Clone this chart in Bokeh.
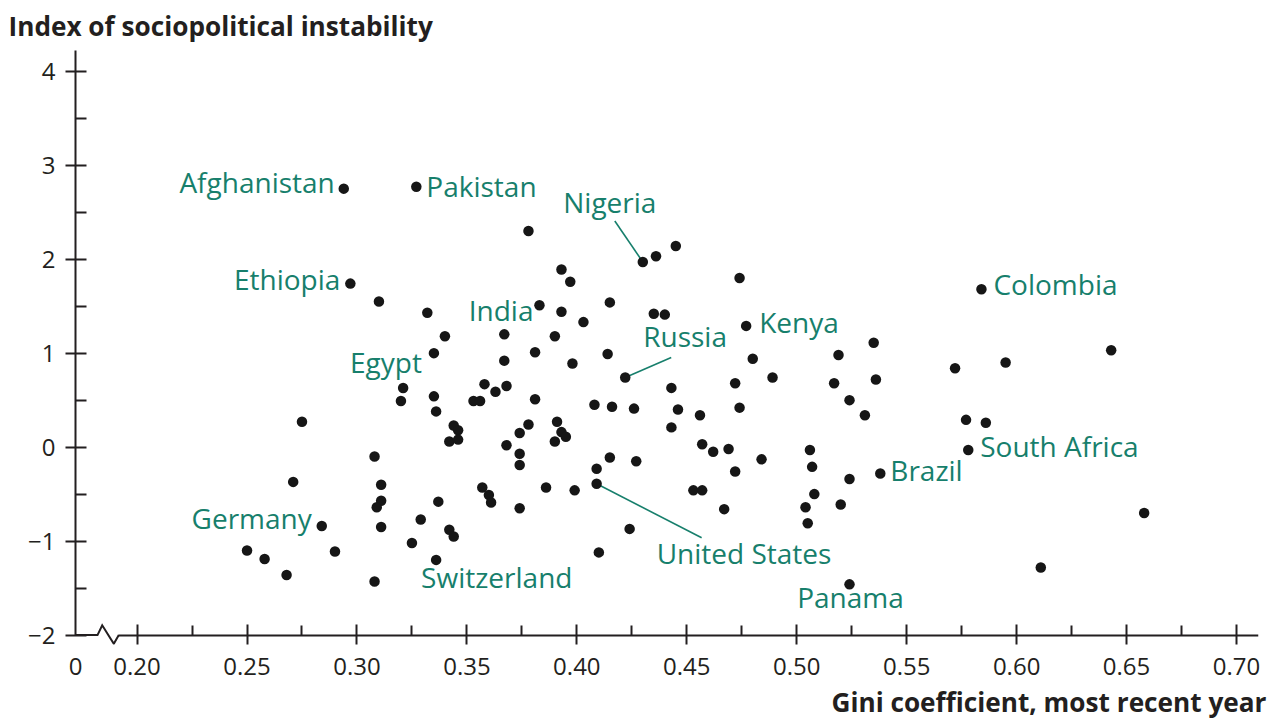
from bokeh.plotting import figure
from bokeh.models import (Range1d, FixedTicker, CustomJSTickFormatter, Label, LinearAxis, Title,
                          CustomLabelingPolicy)
from bokeh.embed import file_html
from bokeh.resources import INLINE

# ---------------- data ----------------
countries = ["Afghanistan", "Pakistan", "Ethiopia", "Nigeria", "India", "Egypt", "Russia",
             "Kenya", "Colombia", "South Africa", "Brazil", "Germany", "Switzerland",
             "United States", "Panama"]
country_gini = [0.294, 0.327, 0.297, 0.430, 0.383, 0.335, 0.422,
                0.477, 0.584, 0.578, 0.538, 0.284, 0.336, 0.409, 0.524]
country_instability = [2.75, 2.77, 1.74, 1.97, 1.51, 1.00, 0.74,
                       1.29, 1.68, -0.03, -0.28, -0.84, -1.20, -0.39, -1.46]

other_gini = [0.310, 0.332, 0.340, 0.367, 0.367, 0.321, 0.358, 0.363, 0.368, 0.378,
              0.436, 0.445, 0.393, 0.397, 0.393, 0.403, 0.415, 0.435, 0.440, 0.390,
              0.381, 0.398, 0.414, 0.443, 0.320, 0.335, 0.336, 0.353, 0.356, 0.344,
              0.346, 0.342, 0.346, 0.374, 0.368, 0.374, 0.374, 0.308, 0.311, 0.311,
              0.309, 0.311, 0.290, 0.337, 0.329, 0.325, 0.342, 0.344, 0.357, 0.360,
              0.361, 0.374, 0.308, 0.381, 0.408, 0.416, 0.426, 0.446, 0.456, 0.443,
              0.378, 0.391, 0.393, 0.395, 0.390, 0.415, 0.427, 0.409, 0.399, 0.386,
              0.457, 0.462, 0.453, 0.457, 0.424, 0.410, 0.467, 0.472, 0.489, 0.480,
              0.517, 0.536, 0.572, 0.595, 0.474, 0.524, 0.531, 0.577, 0.586, 0.469,
              0.506, 0.484, 0.507, 0.472, 0.524, 0.508, 0.504, 0.520, 0.505, 0.658,
              0.611, 0.474, 0.535, 0.643, 0.519, 0.275, 0.271, 0.250, 0.258, 0.268]
other_instability = [1.55, 1.43, 1.18, 1.20, 0.92, 0.63, 0.67, 0.59, 0.65, 2.30,
                     2.03, 2.14, 1.89, 1.76, 1.44, 1.33, 1.54, 1.42, 1.41, 1.18,
                     1.01, 0.89, 0.99, 0.63, 0.49, 0.54, 0.38, 0.49, 0.49, 0.23,
                     0.18, 0.06, 0.08, 0.15, 0.02, -0.07, -0.19, -0.10, -0.40, -0.57,
                     -0.64, -0.85, -1.11, -0.58, -0.77, -1.02, -0.88, -0.95, -0.43, -0.51,
                     -0.59, -0.65, -1.43, 0.51, 0.45, 0.43, 0.41, 0.40, 0.34, 0.21,
                     0.24, 0.27, 0.16, 0.11, 0.06, -0.11, -0.15, -0.23, -0.46, -0.43,
                     0.03, -0.05, -0.46, -0.46, -0.87, -1.12, -0.66, 0.68, 0.74, 0.94,
                     0.68, 0.72, 0.84, 0.90, 0.42, 0.50, 0.34, 0.29, 0.26, -0.02,
                     -0.03, -0.13, -0.21, -0.26, -0.34, -0.50, -0.64, -0.61, -0.81, -0.70,
                     -1.28, 1.80, 1.11, 1.03, 0.98, 0.27, -0.37, -1.10, -1.19, -1.36]

x_ticks = [0.20, 0.25, 0.30, 0.35, 0.40, 0.45, 0.50, 0.55, 0.60, 0.65, 0.70]
x_minor_ticks = [0.225, 0.275, 0.325, 0.375, 0.425, 0.475, 0.525, 0.575, 0.625, 0.675]
y_ticks = [-2, -1, 0, 1, 2, 3, 4]
y_minor_ticks = [-1.5, -0.5, 0.5, 1.5, 2.5, 3.5]

y_title = "Index of sociopolitical instability"
x_title = "Gini coefficient, most recent year"

# ---------------- layout / style ----------------
W, H = 1282, 727
ML, MR, MT, MB = 75, 24, 50, 83
FW, FH = W - ML - MR, H - MT - MB
X0, X1 = 0.172, 0.71
Y1 = 4.22
PY = (FH - 9.4) / (Y1 + 2)       # px per unit, y = -2 sits 9.4 px above the frame bottom
Y0 = Y1 - FH / PY
PX = FW / (X1 - X0)

TEAL = "#177f6c"
INK = "#231f20"
FONT = "Open Sans"

# label placement: (align, x offset px, vertical centre offset px below the dot)
placement = {
    "Afghanistan": ("right", -9, -7),
    "Pakistan": ("left", 10, -1),
    "Ethiopia": ("right", -10, -5),
    "Nigeria": ("center", -33, -60),
    "India": ("right", -6, 5),
    "Egypt": ("right", -12, 9),
    "Russia": ("left", 18, -42),
    "Kenya": ("left", 13, -4),
    "Colombia": ("left", 12, -5),
    "South Africa": ("left", 12, -4),
    "Brazil": ("left", 10, -3),
    "Germany": ("right", -10, -8),
    "Switzerland": ("left", -15, 17),
    "United States": ("left", 60, 69),
    "Panama": ("center", 1, 13),
}
# leader lines: end point offset in px (right, down) from the dot
leaders = {"Nigeria": (-28, -41), "Russia": (46, -20), "United States": (105, 54)}

p = figure(width=W, height=H, x_range=Range1d(X0, X1), y_range=Range1d(Y0, Y1),
           x_axis_location=None, output_backend="svg", toolbar_location=None,
           min_border_left=ML, min_border_right=MR, min_border_top=MT, min_border_bottom=MB)
p.outline_line_color = None
p.xgrid.visible = False
p.ygrid.visible = False
p.background_fill_color = "white"
p.border_fill_color = "white"

# y axis
yax = p.yaxis[0]
yax.bounds = (-2, Y1)
yax.ticker = FixedTicker(ticks=y_ticks, minor_ticks=y_minor_ticks)
yax.formatter = CustomJSTickFormatter(code="return tick < 0 ? '\u2212' + Math.abs(tick) : String(tick);")
yax.axis_line_color = INK
yax.axis_line_width = 2
yax.major_tick_line_color = INK
yax.major_tick_line_width = 2
yax.minor_tick_line_color = INK
yax.minor_tick_line_width = 2
yax.major_tick_in = 11
yax.major_tick_out = 10
yax.minor_tick_in = 11
yax.minor_tick_out = 0
yax.major_label_text_font = FONT
yax.major_label_text_font_size = "24px"
yax.major_label_text_color = INK
yax.major_label_standoff = 10

# x axis line and ticks, drawn at y = -2 (with the axis break before it)
zig = [(-1, 0), (22, 0), (26.7, -9.8), (38.3, 8.7), (43.3, 0)]
zx = [X0 + a / PX for a, b in zig]
zy = [-2 - b / PY for a, b in zig]
p.line(zx, zy, line_color=INK, line_width=2, line_join="miter")

tick_ax = LinearAxis(fixed_location=-2, bounds=(zx[-1], X1),
                     ticker=FixedTicker(ticks=x_ticks, minor_ticks=x_minor_ticks),
                     axis_line_color=INK, axis_line_width=2,
                     major_tick_line_color=INK, major_tick_line_width=2,
                     minor_tick_line_color=INK, minor_tick_line_width=2,
                     major_tick_out=11, major_tick_in=10, minor_tick_out=10, minor_tick_in=0,
                     major_label_standoff=0,
                     major_label_policy=CustomLabelingPolicy(
                         code="for (const i of indices) indices.unset(i); return indices;"))
p.add_layout(tick_ax, "above")

# x tick labels (incl. the "0" at the origin) below the frame
lab_ax = LinearAxis(bounds=(X0, X1),
                    ticker=FixedTicker(ticks=[X0] + x_ticks, minor_ticks=[]),
                    formatter=CustomJSTickFormatter(code="return tick < 0.19 ? '0' : tick.toFixed(2);"),
                    axis_line_color=None, major_tick_in=0, major_tick_out=0,
                    minor_tick_in=0, minor_tick_out=0, major_label_standoff=13,
                    major_label_text_font=FONT, major_label_text_font_size="24px",
                    major_label_text_color=INK)
p.add_layout(lab_ax, "below")

# titles
p.title.text = y_title
p.title.align = "left"
p.title.vertical_align = "top"
p.title.offset = -67
p.title.standoff = 10
p.title.text_font = FONT
p.title.text_font_style = "bold"
p.title.text_font_size = "26.2px"
p.title.text_color = INK

p.add_layout(Title(text=x_title, align="right", offset=-8, standoff=8, text_font=FONT,
                   text_font_style="bold", text_font_size="26.2px", text_color=INK), "below")

# leader lines
lx0, ly0, lx1, ly1 = [], [], [], []
for name, g, v in zip(countries, country_gini, country_instability):
    if name in leaders:
        dx, dy = leaders[name]
        lx0.append(g); ly0.append(v)
        lx1.append(g + dx / PX); ly1.append(v - dy / PY)
p.segment(lx0, ly0, lx1, ly1, line_color=TEAL, line_width=1.6)

# points
p.scatter(other_gini, other_instability, size=10.5, fill_color="#161616", line_color=None)
p.scatter(country_gini, country_instability, size=10.5, fill_color="#161616", line_color=None)

# country labels
for name, g, v in zip(countries, country_gini, country_instability):
    align, dx, dy = placement[name]
    p.add_layout(Label(x=g, y=v, x_offset=dx, y_offset=-dy, text=name,
                       text_align=align, text_baseline="middle", text_font=FONT,
                       text_font_size="28px", text_color=TEAL))

open("out.html", "w").write(file_html(p, INLINE))
